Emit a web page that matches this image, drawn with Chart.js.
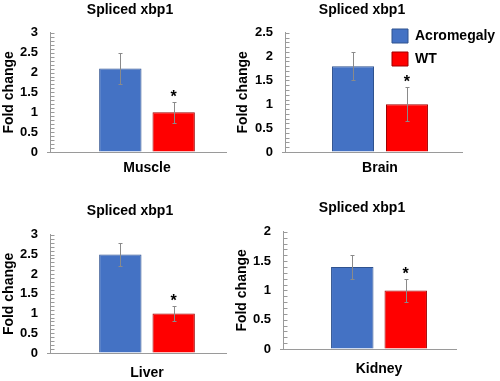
<!DOCTYPE html>
<html><head><meta charset="utf-8">
<script src="https://cdn.jsdelivr.net/npm/chart.js@4/dist/chart.umd.min.js"></script>
<style>
html,body{margin:0;padding:0;background:#fff;width:500px;height:381px;overflow:hidden;position:relative}
canvas{position:absolute}
</style></head><body>
<canvas id="c0"></canvas><canvas id="c1"></canvas><canvas id="c2"></canvas><canvas id="c3"></canvas><canvas id="cl"></canvas>
<script>
// ---- data ----
const tissues = ['Muscle', 'Brain', 'Liver', 'Kidney'];
const chartTitle = 'Spliced xbp1';
const yAxisTitle = 'Fold change';
const seriesNames = ['Acromegaly', 'WT'];
const acromegaly = [2.1, 1.8, 2.5, 1.4];
const acromegalyErr = [0.4, 0.3, 0.3, 0.2];
const wt = [1.0, 1.0, 1.0, 1.0];
const wtErr = [0.26, 0.36, 0.2, 0.2];
const wtSignificance = ['*', '*', '*', '*'];
const yMax = [3, 2.5, 3, 2];
const yMajorStep = 0.5;
const yMinorStep = 0.1;

// ---- style ----
const FONT = '"Liberation Sans", Arial, sans-serif';
Chart.defaults.font.family = FONT;
Chart.defaults.color = '#000';
const blue = '#4472C4', blueBorder = '#2F528F';
const red = '#FF0000', redBorder = '#A00000';
const axisGray = '#9a9a9a';

const panels = [
  {left: 0,   top: 0,   w: 260, h: 190, tT: 2,  tB: 14, axisW: 50, rightW: 16, xAxisH: 38, xPad: 8,  cat: 0.55,  bar: 0.794, axisLen: 177},
  {left: 234, top: 0,   w: 256, h: 190, tT: 2,  tB: 14, axisW: 51, rightW: 15, xAxisH: 38, xPad: 8,  cat: 0.568, bar: 0.778, axisLen: 178},
  {left: 0,   top: 190, w: 260, h: 191, tT: 13, tB: 15, axisW: 50, rightW: 16, xAxisH: 28, xPad: 12, cat: 0.55,  bar: 0.794, axisLen: 177},
  {left: 233, top: 190, w: 258, h: 191, tT: 10, tB: 15, axisW: 50, rightW: 16, xAxisH: 32, xPad: 12, cat: 0.557, bar: 0.794, axisLen: 174}
];

const errorBarPlugin = {
  id: 'errorBars',
  afterDatasetsDraw(chart) {
    const ctx = chart.ctx, ys = chart.scales.y;
    chart.data.datasets.forEach((ds, di) => {
      const meta = chart.getDatasetMeta(di);
      meta.data.forEach((bar, k) => {
        const v = ds.data[k], e = ds.errors[k];
        const yt = Math.round(ys.getPixelForValue(v + e)) + 0.5;
        const yb = Math.round(ys.getPixelForValue(v - e)) + 0.5;
        const x = Math.round(bar.x) + 0.5;
        ctx.save();
        ctx.strokeStyle = '#8a8a8a';
        ctx.lineWidth = 1;
        ctx.beginPath();
        ctx.moveTo(x, yt); ctx.lineTo(x, yb);
        ctx.moveTo(x - 2, yt); ctx.lineTo(x + 2, yt);
        ctx.moveTo(x - 2, yb); ctx.lineTo(x + 2, yb);
        ctx.stroke();
        if (ds.sig[k]) {
          ctx.fillStyle = '#000';
          ctx.font = 'bold 16px ' + FONT;
          ctx.textAlign = 'center';
          ctx.textBaseline = 'alphabetic';
          ctx.fillText(ds.sig[k], bar.x, yt - 1);
        }
        ctx.restore();
      });
    });
  }
};

// x axis line (shorter than the symmetric plot area) + inward y ticks
function axisDecor(len) {
  return {
    id: 'axisDecor',
    beforeDatasetsDraw(chart) {
      const ctx = chart.ctx, a = chart.chartArea, ys = chart.scales.y;
      const y = Math.round(a.bottom) + 0.5;
      const x0 = Math.round(a.left) + 0.5;
      ctx.save();
      ctx.strokeStyle = axisGray;
      ctx.lineWidth = 1;
      ctx.beginPath();
      ctx.moveTo(a.left - 3, y);
      ctx.lineTo(a.left + len, y);
      ys.ticks.forEach(t => {
        const ty = Math.round(ys.getPixelForValue(t.value)) + 0.5;
        ctx.moveTo(x0, ty);
        ctx.lineTo(x0 + 4, ty);
      });
      ctx.stroke();
      ctx.restore();
    }
  };
}

const isMajor = v => Math.abs(v / yMajorStep - Math.round(v / yMajorStep)) < 1e-6;

panels.forEach((p, i) => {
  const cv = document.getElementById('c' + i);
  cv.width = p.w; cv.height = p.h;
  cv.style.left = p.left + 'px'; cv.style.top = p.top + 'px';
  new Chart(cv, {
    type: 'bar',
    data: {
      labels: [tissues[i]],
      datasets: [
        {label: seriesNames[0], data: [acromegaly[i]], errors: [acromegalyErr[i]], sig: [''],
         backgroundColor: blue, borderColor: blueBorder, borderWidth: 1},
        {label: seriesNames[1], data: [wt[i]], errors: [wtErr[i]], sig: [wtSignificance[i]],
         backgroundColor: red, borderColor: redBorder, borderWidth: 1}
      ]
    },
    options: {
      responsive: false, animation: false, devicePixelRatio: 1,
      layout: {padding: 0},
      datasets: {bar: {categoryPercentage: p.cat, barPercentage: p.bar}},
      plugins: {
        legend: {display: false},
        tooltip: {enabled: false},
        title: {display: true, text: chartTitle, color: '#000',
                font: {size: 14, weight: 'bold'}, padding: {top: p.tT, bottom: p.tB}}
      },
      scales: {
        x: {
          grid: {display: false, drawTicks: false}, border: {display: false},
          ticks: {padding: p.xPad, color: '#000', font: {size: 14, weight: 'bold'}},
          afterFit: s => { s.height = p.xAxisH; }
        },
        y: {
          min: 0, max: yMax[i],
          grid: {drawOnChartArea: false, drawTicks: false},
          border: {display: true, color: axisGray},
          ticks: {stepSize: yMinorStep, autoSkip: false, padding: 12, color: '#000',
                  font: {size: 13, weight: 'bold'},
                  callback: v => isMajor(v) ? String(Math.round(v * 10) / 10) : ''},
          title: {display: true, text: yAxisTitle, color: '#000',
                  font: {size: 14, weight: 'bold'}, padding: {top: 1, bottom: 0}},
          afterFit: s => { s.width = p.axisW; }
        },
        yRight: {
          position: 'right', display: true,
          grid: {display: false, drawTicks: false}, border: {display: false},
          ticks: {display: false},
          afterFit: s => { s.width = p.rightW; }
        }
      }
    },
    plugins: [errorBarPlugin, axisDecor(p.axisLen)]
  });
});

// legend
const cl = document.getElementById('cl');
cl.width = 117; cl.height = 70;
cl.style.left = '383px'; cl.style.top = '20px';
new Chart(cl, {
  type: 'bar',
  data: {labels: [], datasets: [
    {label: seriesNames[0], data: [], backgroundColor: blue, borderColor: blueBorder, borderWidth: 1},
    {label: seriesNames[1], data: [], backgroundColor: red, borderColor: redBorder, borderWidth: 1}
  ]},
  options: {
    responsive: false, animation: false, devicePixelRatio: 1,
    layout: {padding: 0},
    scales: {x: {display: false}, y: {display: false}},
    plugins: {
      tooltip: {enabled: false},
      legend: {position: 'left', align: 'start', maxWidth: 117,
               labels: {boxWidth: 16, boxHeight: 14, padding: 9, color: '#000',
                        font: {size: 14, weight: 'bold'}}}
    }
  }
});
</script>
</body></html>
